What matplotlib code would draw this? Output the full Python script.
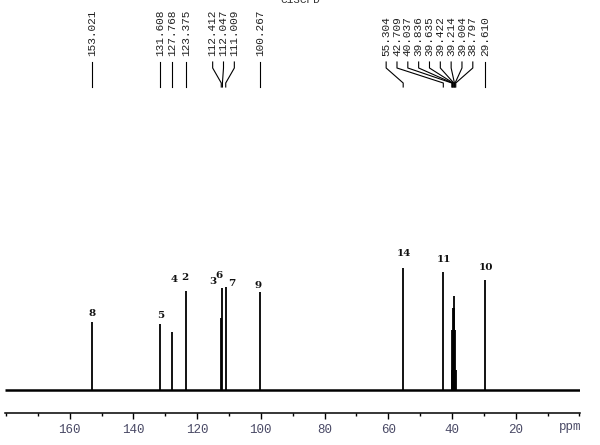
import matplotlib
matplotlib.use("Agg")
import matplotlib.pyplot as plt
from matplotlib.ticker import MultipleLocator, FixedLocator

# peak list (ppm) and peak heights (arbitrary units)
peak_ppm = [153.021, 131.608, 127.768, 123.375, 112.412, 112.047, 111.009,
            100.267, 55.304, 42.709, 40.037, 39.836, 39.635, 39.422, 39.214,
            39.004, 38.797, 29.610]
peak_height = [68, 66, 58, 99, 72, 102, 103, 98, 122, 118,
               20, 60, 82, 94, 82, 60, 20, 110]

# carbon assignment labels written over the peaks
assign_text = ["8", "5", "4", "2", "3", "6", "7", "9", "14", "11", "10"]
assign_ppm = [153.0, 131.4, 127.3, 123.8, 115.2, 113.0, 109.1, 100.9, 55.1, 42.4, 29.3]
assign_height = [77, 74, 111, 112, 109, 115, 106, 105, 137, 131, 123]

major_ticks = [160, 140, 120, 100, 80, 60, 40, 20]
title_text = "C13CPD"

MONO = "Liberation Mono"
LABEL_GAP = 3.4  # ppm between neighbouring peak labels


def spread_labels(values, gap):
    # values sorted high -> low; push overlapping labels apart in groups
    groups = [[v] for v in values]
    changed = True
    while changed:
        changed = False
        pos = []
        for g in groups:
            mid = (g[0] + g[-1]) / 2
            start = mid + gap * (len(g) - 1) / 2
            pos.append([start - gap * k for k in range(len(g))])
        for i in range(len(groups) - 1):
            if pos[i][-1] - pos[i + 1][0] < gap:
                groups[i] = groups[i] + groups[i + 1]
                del groups[i + 1]
                changed = True
                break
    out = []
    for p in pos:
        out.extend(p)
    return out


fig = plt.figure(figsize=(6.0, 4.45), dpi=100)
ax = fig.add_axes([5 / 600, 32 / 445, 575 / 600, 413 / 445])
ax.set_xlim(180.3, -0.2)
ax.set_ylim(-23, 390)

# baseline and peaks
ax.plot([180.3, -0.2], [0, 0], color="black", lw=1.8, solid_capstyle="butt")
ax.vlines(peak_ppm, 0, peak_height, color="black", lw=1.3)

# peak labels with leader lines
label_x = spread_labels(sorted(peak_ppm, reverse=True), LABEL_GAP)
for p, lx in zip(sorted(peak_ppm, reverse=True), label_x):
    ax.plot([lx, lx, p, p], [328, 322, 307, 303], color="black", lw=0.8)
    ax.text(lx, 334, f"{p:.3f}", rotation=90, ha="center", va="bottom",
            family=MONO, fontsize=8, color="#222222")

for t, x, y in zip(assign_text, assign_ppm, assign_height):
    ax.text(x, y, t, ha="center", va="center", fontsize=7.5,
            fontweight="bold", family="DejaVu Serif", color="#111111")

# axis styling
for side in ["top", "left", "right"]:
    ax.spines[side].set_visible(False)
ax.spines["bottom"].set_linewidth(1.1)
ax.set_yticks([])
ax.xaxis.set_major_locator(FixedLocator(major_ticks))
ax.xaxis.set_minor_locator(MultipleLocator(10))
ax.tick_params(axis="x", which="major", length=4, width=1, direction="out",
               pad=4, labelsize=9, labelcolor="#4a4a66")
ax.tick_params(axis="x", which="minor", length=2.5, width=1, direction="out")
for lab in ax.get_xticklabels():
    lab.set_family(MONO)
ax.text(3.0, -37, "ppm", ha="center", va="center", family=MONO,
        fontsize=9, color="#4a4a66")

fig.text(0.5, 1 - 5 / 445, title_text, ha="center", va="bottom",
         family=MONO, fontsize=8, color="#333333")

fig.savefig("out.png", dpi=100)
